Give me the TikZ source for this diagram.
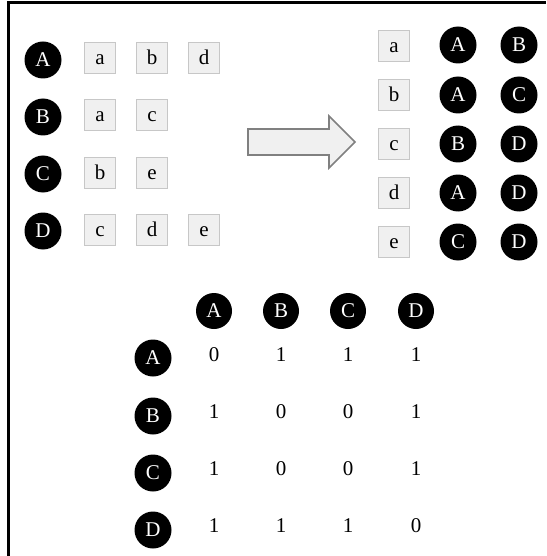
\documentclass[tikz,border=0pt]{standalone}
\usepackage{fontspec}
\setmainfont{Liberation Serif}
\newcommand\myfs{\fontsize{21}{21}\selectfont}
\begin{document}
\begin{tikzpicture}[x=1pt,y=-1pt,
  vert/.style={circle,fill=black,text=white,minimum size=37pt,inner sep=0pt,font=\myfs},
  hvert/.style={vert,minimum size=36pt},
  edgebox/.style={draw=black!22,line width=1.3pt,fill=black!6,minimum size=31pt,inner sep=0pt,text height=12.5pt,text depth=0pt,font=\myfs},
  val/.style={font=\myfs,inner sep=0pt}]
\useasboundingbox (0,0) rectangle (546,556);
\draw[line width=3pt] (8,556) -- (8,2.5) -- (546,2.5);
% left lists
\foreach \n/\y in {A/60,B/117,C/174,D/231}{\node[vert] (L\n) at (43,\y) {\n};}
\node[edgebox] (LAa) at (100,58) {a};
\node[edgebox] (LAb) at (152,58) {b};
\node[edgebox] (LAd) at (204,58) {d};
\node[edgebox] (LBa) at (100,115) {a};
\node[edgebox] (LBc) at (152,115) {c};
\node[edgebox] (LCb) at (100,173) {b};
\node[edgebox] (LCe) at (152,173) {e};
\node[edgebox] (LDc) at (100,230) {c};
\node[edgebox] (LDd) at (152,230) {d};
\node[edgebox] (LDe) at (204,230) {e};
% arrow
\draw[draw=black!50,line width=1.6pt,fill=black!6,line join=miter]
  (248,129) -- (329,129) -- (329,116) -- (355,142) -- (329,168) -- (329,155) -- (248,155) -- cycle;
% right lists
\node[edgebox] (Ra) at (394,46) {a};
\node[edgebox] (Rb) at (394,95) {b};
\node[edgebox] (Rc) at (394,144) {c};
\node[edgebox] (Rd) at (394,193) {d};
\node[edgebox] (Re) at (394,242) {e};
\node[vert] (Ra1) at (458,45) {A};
\node[vert] (Ra2) at (519,45) {B};
\node[vert] (Rb1) at (458,95) {A};
\node[vert] (Rb2) at (519,95) {C};
\node[vert] (Rc1) at (458,144) {B};
\node[vert] (Rc2) at (519,144) {D};
\node[vert] (Rd1) at (458,193) {A};
\node[vert] (Rd2) at (519,193) {D};
\node[vert] (Re1) at (458,242) {C};
\node[vert] (Re2) at (519,242) {D};
% matrix
\foreach \n/\x in {A/214,B/281,C/348,D/416}{\node[hvert] (H\n) at (\x,311) {\n};}
\foreach \n/\y in {A/358,B/416,C/473,D/530}{\node[vert] (M\n) at (153,\y) {\n};}
\foreach \r/\y/\a/\b/\c/\d in {A/355/0/1/1/1,B/412/1/0/0/1,C/469/1/0/0/1,D/526/1/1/1/0}{
  \node[val] (V\r1) at (214,\y) {\a};
  \node[val] (V\r2) at (281,\y) {\b};
  \node[val] (V\r3) at (348,\y) {\c};
  \node[val] (V\r4) at (416,\y) {\d};
}
\end{tikzpicture}
\end{document}
